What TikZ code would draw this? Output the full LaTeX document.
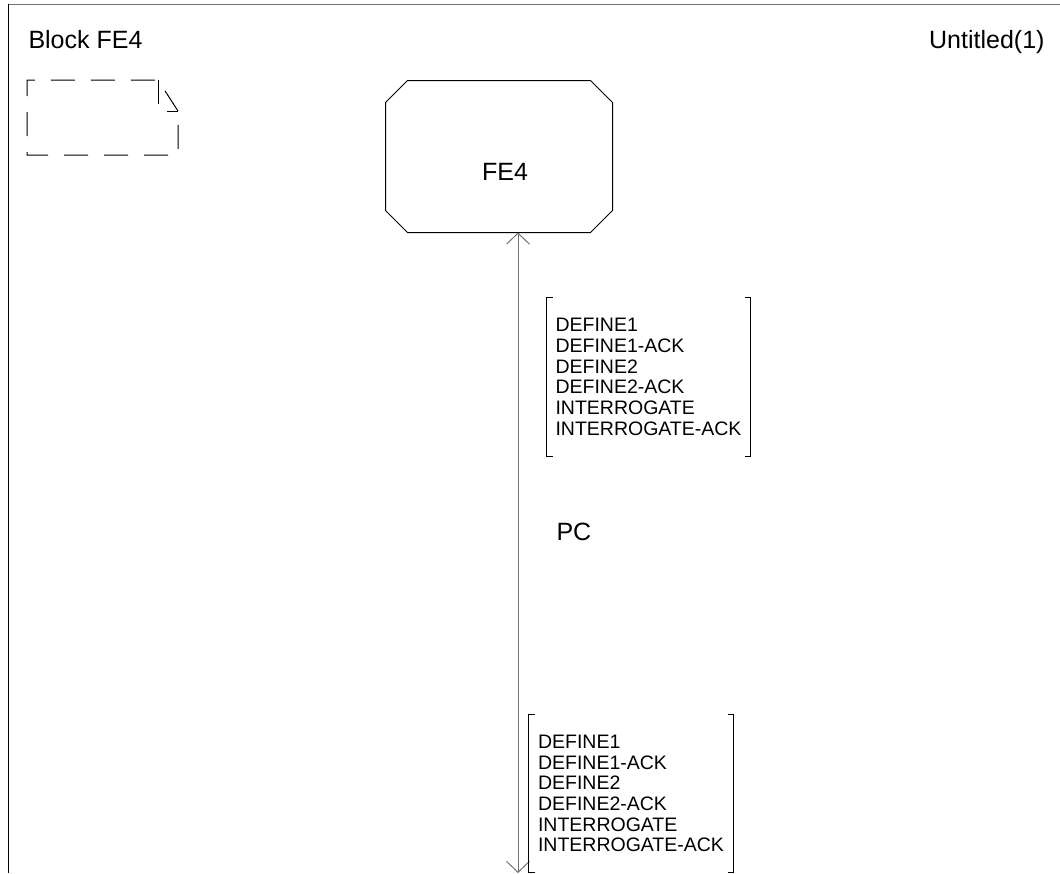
\documentclass[tikz,border=0pt]{standalone}
\usepackage{fontspec}
\setmainfont{Liberation Sans}
\usetikzlibrary{arrows.meta,positioning}

\begin{document}
\begin{tikzpicture}[x=1pt,y=-1pt, line width=1pt,
  bigtxt/.style={font=\fontsize{25}{30}\selectfont,inner sep=0pt},
  sigtxt/.style={align=left,font=\fontsize{19.5}{20.7}\selectfont,minimum width=203pt,inner sep=0pt},
  blockbox/.style={minimum width=226pt,minimum height=151pt,inner sep=0pt},
  dsh/.style={dash pattern=on 24pt off 16pt},
  brk/.style={draw},
  chan/.style={draw=black!55,line width=1pt},
  >={Straight Barb[length=11pt,width=23pt]}]
\useasboundingbox (0,0) rectangle (1060,873);
% frame
\draw[black!55] (8,4) -- (1060,4);
\draw (8,4) -- (8,873);
\node[bigtxt,anchor=base west] (title) at (28,48) {Block FE4};
\node[bigtxt,anchor=base east] (page) at (1045,48) {Untitled(1)};
% text symbol
\draw[dsh] (178,111) -- (158,80) -- (27,80) -- (27,155) -- (178,155) -- cycle;
\draw[dsh] (158,80) -- (158,111) -- (178,111);
% block
\node[blockbox] (fe4) at (499,156.5) {};
\draw ([xshift=22pt]fe4.north west) -- ([xshift=-22pt]fe4.north east) -- ([yshift=-22pt]fe4.north east)
  -- ([yshift=22pt]fe4.south east) -- ([xshift=-22pt]fe4.south east) -- ([xshift=22pt]fe4.south west)
  -- ([yshift=22pt]fe4.south west) -- ([yshift=-22pt]fe4.north west) -- cycle;
\node[bigtxt] (fe4txt) at ([xshift=6pt,yshift=-15pt]fe4.center) {FE4};
% channel
\coordinate (pcend) at (518,873);
\draw[chan,<->] (fe4.south -| pcend) -- (pcend);
\node[bigtxt,anchor=base west] (pc) at (556,540) {PC};
\node[sigtxt,minimum height=158pt] (sig1) at (648.5,377) {DEFINE1\\DEFINE1-ACK\\DEFINE2\\DEFINE2-ACK\\INTERROGATE\\INTERROGATE-ACK};
\node[sigtxt,minimum height=157pt,minimum width=204pt] (sig2) at (631,793.5) {DEFINE1\\DEFINE1-ACK\\DEFINE2\\DEFINE2-ACK\\INTERROGATE\\INTERROGATE-ACK};
\foreach \s in {sig1,sig2} {
  \draw[brk] ([xshift=6pt]\s.north west) -- (\s.north west) -- (\s.south west) -- ([xshift=6pt]\s.south west);
  \draw[brk] ([xshift=-6pt]\s.north east) -- (\s.north east) -- (\s.south east) -- ([xshift=-6pt]\s.south east);
}
\end{tikzpicture}
\end{document}
